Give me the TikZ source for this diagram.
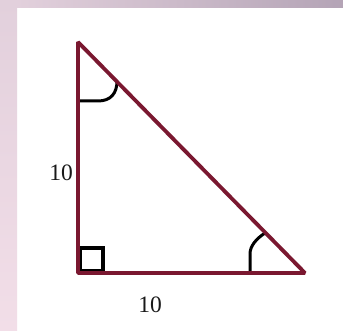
\documentclass[tikz,border=0pt]{standalone}
\usepackage{fontspec}
\setmainfont{Liberation Serif}
\definecolor{maroon}{HTML}{7A1830}
\definecolor{bgA}{HTML}{E2D0DC}
\definecolor{bgB}{HTML}{B4A4B6}
\definecolor{bgC}{HTML}{F2DEE8}
\begin{document}
\begin{tikzpicture}[x=1pt,y=-1pt,
  side/.style={draw=maroon,line width=3.8pt,line cap=round,line join=bevel},
  anglemark/.style={draw=black,line width=3pt},
  lbl/.style={font=\fontsize{23.5}{26}\selectfont,inner sep=0pt,text=black!90}]
\useasboundingbox (0,0) rectangle (343,331);
\fill[white] (0,0) rectangle (343,331);
\shade[top color=bgA,bottom color=bgC] (0,0) rectangle (17,331);
\shade[left color=bgA,right color=bgB] (17,0) rectangle (343,8);
\coordinate (A) at (78,42);
\coordinate (B) at (78,273);
\coordinate (C) at (305,273);
\draw[anglemark] (117,81) .. controls (117,93) and (111,101) .. (98,101) -- (78,101);
\draw[anglemark] (250,273) -- (250,254) .. controls (250,246) and (256,239) .. (265,233);
\draw[draw=black,line width=4pt] (80,271) rectangle (103,248);
\draw[side] (A) -- (B) -- (C) -- cycle;
\node[lbl] (l1) at (61,173) {10};
\node[lbl] (l2) at (150,305) {10};
\end{tikzpicture}
\end{document}
